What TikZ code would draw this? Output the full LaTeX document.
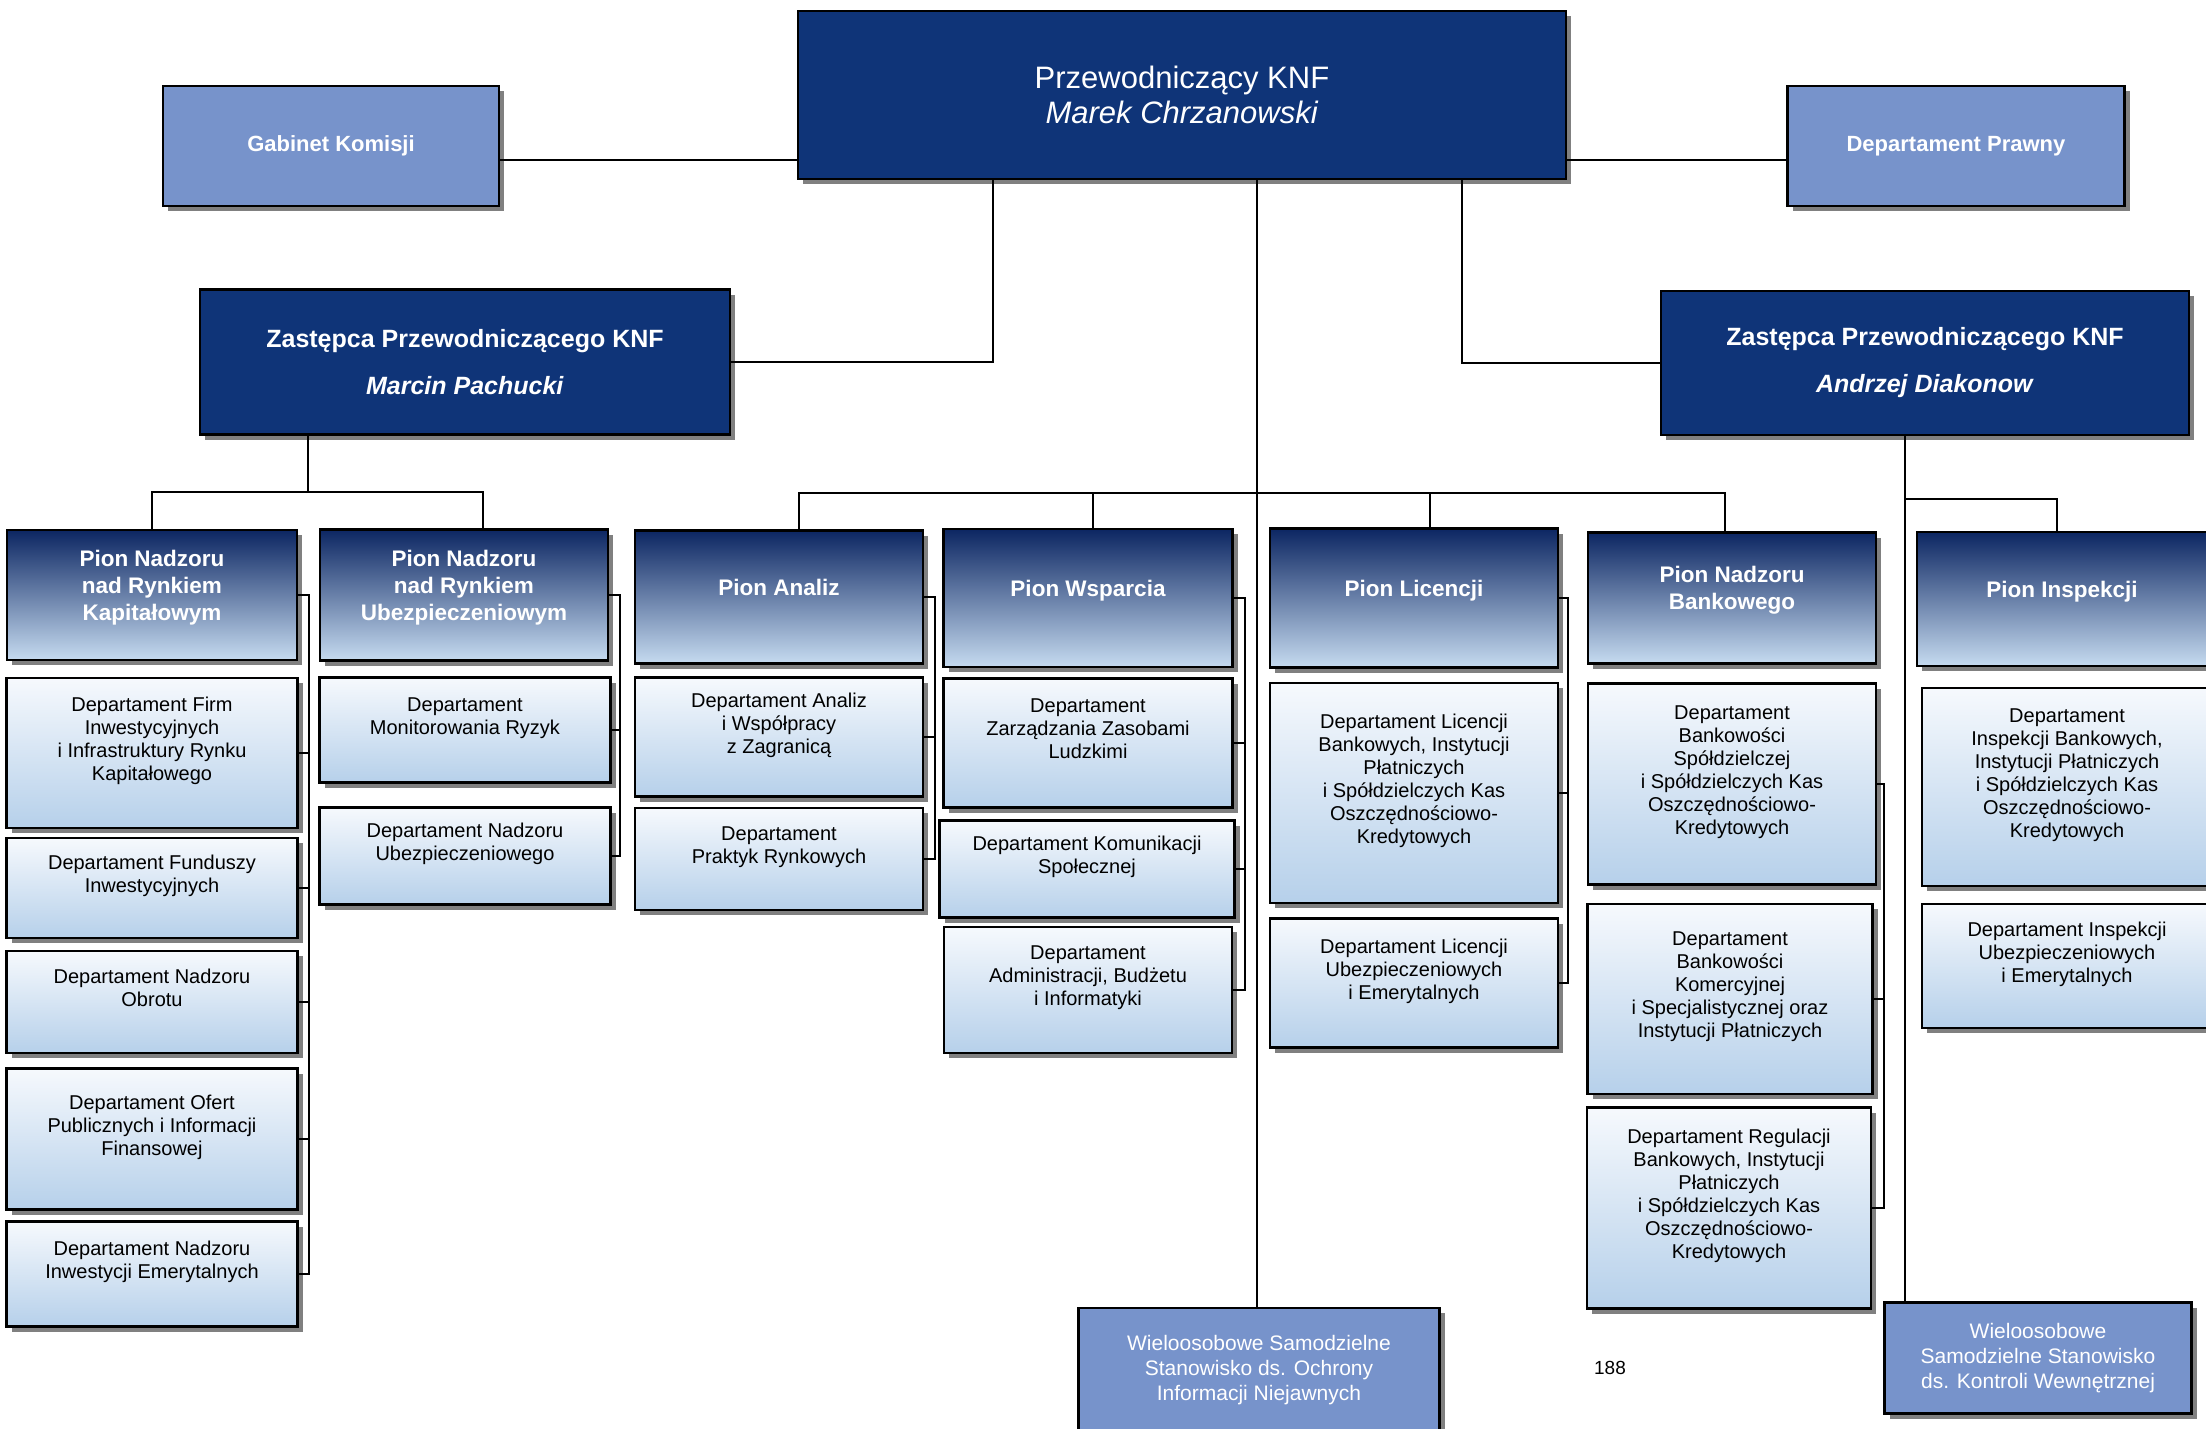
\documentclass[tikz,border=0pt]{standalone}
\usepackage{fontspec}
\setmainfont{Liberation Sans}
\usepackage{xcolor}
\usepackage{tikz}
\usetikzlibrary{positioning,calc}
\definecolor{navy}{RGB}{15,52,120}
\definecolor{paleblue}{RGB}{119,147,203}
\definecolor{piontop}{RGB}{12,38,98}
\definecolor{pionmid}{RGB}{88,120,176}
\definecolor{pionbot}{RGB}{198,219,240}
\definecolor{depttop}{RGB}{246,249,253}
\definecolor{deptbot}{RGB}{182,208,234}
\definecolor{shadowgray}{RGB}{128,128,128}

\begin{document}
\begin{tikzpicture}[
  x=1pt,y=-1pt,
  dim/.style 2 args={minimum width=#1pt,minimum height=#2pt},
  boxbase/.style={rectangle,draw=black,line width=2.4pt,inner sep=2pt,align=center,
    preaction={fill=shadowgray,transform canvas={shift={(5pt,-5pt)}}}},
  chief/.style={boxbase,fill=navy,text=white},
  staff/.style={boxbase,fill=paleblue,text=white},
  pion/.style={boxbase,top color=piontop,middle color=pionmid,bottom color=pionbot,text=white,
    font=\bfseries\fontsize{22.5}{27}\selectfont,text depth=20pt},
  dept/.style={boxbase,top color=depttop,bottom color=deptbot,text=black,
    font=\fontsize{20}{23}\selectfont,text depth=28pt},
  link/.style={draw=black,line width=2pt}
]
\useasboundingbox (0,0) rectangle (2206,1428);

% top level
\node[chief,dim={768}{168},font=\fontsize{31}{35}\selectfont] (chair) at (1182,95) {Przewodniczący KNF\\\textit{Marek Chrzanowski}};
\node[staff,dim={336}{120},font=\bfseries\fontsize{22}{25}\selectfont] (gab) at (331,146) {Gabinet Komisji};
\node[staff,dim={337}{120},font=\bfseries\fontsize{22}{25}\selectfont] (praw) at (1956,146) {Departament Prawny};
\node[chief,dim={530}{145},font=\bfseries\fontsize{25}{47}\selectfont] (zl) at (465,362) {Zastępca Przewodniczącego KNF\\\textit{Marcin Pachucki}};
\node[chief,dim={528}{144},font=\bfseries\fontsize{25}{47}\selectfont] (zr) at (1925,363) {Zastępca Przewodniczącego KNF\\\textit{Andrzej Diakonow}};

% piony
\node[pion,dim={290}{130}] (pkap) at (152,595) {Pion Nadzoru\\nad Rynkiem\\Kapitałowym};
\node[pion,dim={288}{131}] (pubez) at (464,595) {Pion Nadzoru\\nad Rynkiem\\Ubezpieczeniowym};
\node[pion,dim={288}{133}] (panal) at (779,597) {Pion Analiz};
\node[pion,dim={289}{138}] (pwsp) at (1088,598) {Pion Wsparcia};
\node[pion,dim={288}{139}] (plic) at (1414,598) {Pion Licencji};
\node[pion,dim={288}{131}] (pbank) at (1732,598) {Pion Nadzoru\\Bankowego};
\node[pion,dim={290}{134}] (pinsp) at (2062,599) {Pion Inspekcji};

% departamenty
\node[dept,dim={291}{150}] (kap1) at (152,753) {Departament Firm\\Inwestycyjnych\\i Infrastruktury Rynku\\Kapitałowego};
\node[dept,dim={291}{100}] (kap2) at (152,888) {Departament Funduszy\\Inwestycyjnych};
\node[dept,dim={291}{102}] (kap3) at (152,1002) {Departament Nadzoru\\Obrotu};
\node[dept,dim={291}{141}] (kap4) at (152,1139) {Departament Ofert\\Publicznych i Informacji\\Finansowej};
\node[dept,dim={291}{105}] (kap5) at (152,1274) {Departament Nadzoru\\Inwestycji Emerytalnych};

\node[dept,dim={291}{105}] (ub1) at (465,730) {Departament\\Monitorowania Ryzyk};
\node[dept,dim={291}{97}] (ub2) at (465,856) {Departament Nadzoru\\Ubezpieczeniowego};

\node[dept,dim={288}{119}] (an1) at (779,737) {Departament Analiz\\i Współpracy\\z Zagranicą};
\node[dept,dim={288}{102}] (an2) at (779,859) {Departament\\Praktyk Rynkowych};

\node[dept,dim={289}{129}] (ws1) at (1088,743) {Departament\\Zarządzania Zasobami\\Ludzkimi};
\node[dept,dim={295}{97}] (ws2) at (1087,869) {Departament Komunikacji\\Społecznej};
\node[dept,dim={288}{126}] (ws3) at (1088,990) {Departament\\Administracji, Budżetu\\i Informatyki};

\node[dept,dim={288}{220}] (lic1) at (1414,793) {Departament Licencji\\Bankowych, Instytucji\\Płatniczych\\i Spółdzielczych Kas\\Oszczędnościowo-\\Kredytowych};
\node[dept,dim={288}{129}] (lic2) at (1414,983) {Departament Licencji\\Ubezpieczeniowych\\i Emerytalnych};

\node[dept,dim={288}{201}] (bk1) at (1732,784) {Departament\\Bankowości\\Spółdzielczej\\i Spółdzielczych Kas\\Oszczędnościowo-\\Kredytowych};
\node[dept,dim={285}{190}] (bk2) at (1730,999) {Departament\\Bankowości\\Komercyjnej\\i Specjalistycznej oraz\\Instytucji Płatniczych};
\node[dept,dim={284}{201}] (bk3) at (1729,1208) {Departament Regulacji\\Bankowych, Instytucji\\Płatniczych\\i Spółdzielczych Kas\\Oszczędnościowo-\\Kredytowych};

\node[dept,dim={290}{198}] (in1) at (2067,787) {Departament\\Inspekcji Bankowych,\\Instytucji Płatniczych\\i Spółdzielczych Kas\\Oszczędnościowo-\\Kredytowych};
\node[dept,dim={290}{124}] (in2) at (2067,966) {Departament Inspekcji\\Ubezpieczeniowych\\i Emerytalnych};

% samodzielne stanowiska
\node[staff,dim={361}{124},font=\fontsize{21}{25}\selectfont] (ochr) at (1259,1370) {Wieloosobowe Samodzielne\\Stanowisko ds. Ochrony\\Informacji Niejawnych};
\node[staff,dim={307}{111},font=\fontsize{21}{25}\selectfont] (kontr) at (2038,1358) {Wieloosobowe\\Samodzielne Stanowisko\\ds. Kontroli Wewnętrznej};

\node[font=\fontsize{19}{22}\selectfont] (pagenum) at (1610,1368) {188};

% connectors
\coordinate (staffrow) at (0,160);
\coordinate (leftdrop) at (993,0);
\coordinate (rightdrop) at (1462,0);
\coordinate (mainline) at (1257,0);
\coordinate (midbus) at (0,493);
\coordinate (leftbus) at (308,492);
\coordinate (rightline) at (1905,499);
\draw[link] (gab.east |- staffrow) -- (chair.west |- staffrow);
\draw[link] (praw.west |- staffrow) -- (chair.east |- staffrow);
\draw[link] (leftdrop |- chair.south) |- (zl.east);
\draw[link] (rightdrop |- chair.south) |- (zr.west);
\draw[link] (mainline |- chair.south) -- (mainline |- ochr.north);
\draw[link] ([xshift=20pt]panal.north) -- ([xshift=20pt]panal.north |- midbus)
  -- ([xshift=-7pt]pbank.north |- midbus) -- ([xshift=-7pt]pbank.north);
\draw[link] ([xshift=5pt]pwsp.north) -- ([xshift=5pt]pwsp.north |- midbus);
\draw[link] ([xshift=16pt]plic.north) -- ([xshift=16pt]plic.north |- midbus);
\draw[link] (leftbus |- zl.south) -- (leftbus);
\draw[link] (pkap.north) |- (leftbus) -| ([xshift=19pt]pubez.north);
\draw[link] (rightline |- zr.south) -- (rightline |- kontr.north);
\draw[link] (rightline) -| ([xshift=-5pt]pinsp.north);

% brackets
\coordinate (kapx) at (309,0);
\coordinate (ubx) at (620,0);
\coordinate (anx) at (935,0);
\coordinate (wsx) at (1245,0);
\coordinate (licx) at (1568,0);
\coordinate (bkx) at (1884,0);
\draw[link] (pkap.east) -- (pkap.east -| kapx) -- (kap5.east -| kapx) -- (kap5.east)
  (kap1.east) -- (kap1.east -| kapx) (kap2.east) -- (kap2.east -| kapx)
  (kap3.east) -- (kap3.east -| kapx) (kap4.east) -- (kap4.east -| kapx);
\draw[link] (pubez.east) -- (pubez.east -| ubx) -- (ub2.east -| ubx) -- (ub2.east)
  (ub1.east) -- (ub1.east -| ubx);
\draw[link] (panal.east) -- (panal.east -| anx) -- (an2.east -| anx) -- (an2.east)
  (an1.east) -- (an1.east -| anx);
\draw[link] (pwsp.east) -- (pwsp.east -| wsx) -- (ws3.east -| wsx) -- (ws3.east)
  (ws1.east) -- (ws1.east -| wsx) (ws2.east) -- (ws2.east -| wsx);
\draw[link] (plic.east) -- (plic.east -| licx) -- (lic2.east -| licx) -- (lic2.east)
  (lic1.east) -- (lic1.east -| licx);
\draw[link] (bk1.east) -- (bk1.east -| bkx) -- (bk3.east -| bkx) -- (bk3.east)
  (bk2.east) -- (bk2.east -| bkx);
\end{tikzpicture}
\end{document}
